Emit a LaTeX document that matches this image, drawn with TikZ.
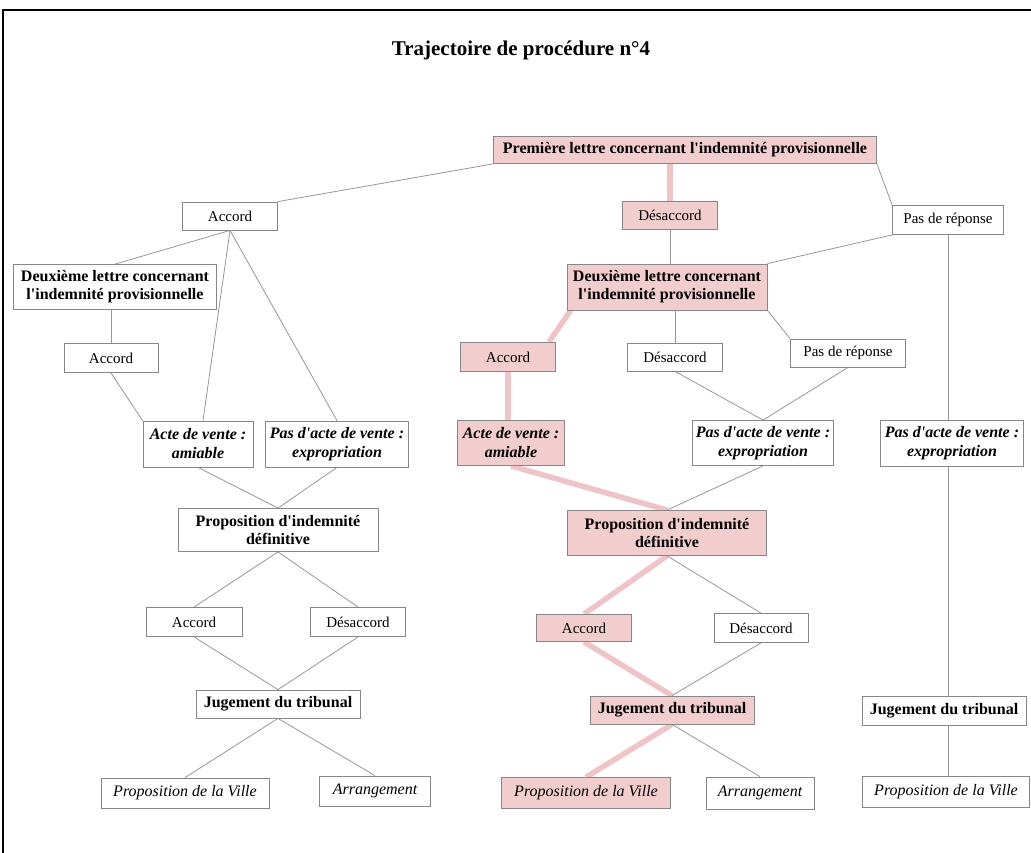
\documentclass[tikz,border=0pt]{standalone}
\usepackage{fontspec}
\setmainfont{Liberation Serif}
\usepackage{tikz}
\usetikzlibrary{positioning, backgrounds}

\definecolor{rosefond}{RGB}{242,205,206}
\definecolor{rosetrait}{RGB}{240,196,198}
\definecolor{bord}{RGB}{135,135,135}
\definecolor{trait}{RGB}{150,150,150}
\newcommand{\apo}{\textquotesingle}

\begin{document}
\begin{tikzpicture}[
    x=1pt, y=-1pt,
    box/.style={rectangle, draw=bord, fill=white, line width=0.8pt, inner sep=0pt,
        minimum width=95pt, minimum height=28pt, align=center,
        font=\fontsize{15}{17}\selectfont},
    gras/.style={box, font=\fontsize{16}{18}\selectfont\bfseries},
    acte/.style={box, minimum height=46pt, font=\fontsize{16}{19}\selectfont\bfseries\itshape},
    issue/.style={box, minimum height=30pt, font=\fontsize{16}{18}\selectfont\itshape},
    suivi/.style={fill=rosefond},
    lien/.style={draw=trait, line width=0.8pt},
    trajet/.style={draw=rosetrait, line width=5.5pt}
]
    \useasboundingbox (0,0) rectangle (1031,853);
    \draw[line width=1.5pt] (3,853) -- (3,10) -- (1031,10);

    \node[font=\fontsize{21}{24}\selectfont\bfseries] (titre) at (521,50) {Trajectoire de procédure n°4};

    % premiere lettre
    \node[gras, suivi, minimum width=383pt, minimum height=27pt] (prem) at (685,150) {Première lettre concernant l\apo indemnité provisionnelle};
    \node[box, minimum width=95pt] (acc1) at (230,216) {Accord};
    \node[box, suivi] (desac1) at (670,215) {Désaccord};
    \node[box, minimum width=111pt, minimum height=29pt] (pdr1) at (948,220) {Pas de réponse};

    % branche gauche
    \node[gras, minimum width=203pt, minimum height=45pt] (deux1) at (115,287) {Deuxième lettre concernant\\l\apo indemnité provisionnelle};
    \node[box, minimum width=94pt, minimum height=29pt] (acc2) at (111,358) {Accord};
    \node[acte, minimum width=110pt] (acte1) at (198,444) {Acte de vente :\\amiable};
    \node[acte, minimum width=143pt] (pasacte1) at (337,444) {Pas d\apo acte de vente :\\expropriation};
    \node[gras, minimum width=200pt, minimum height=43pt] (prop1) at (278,530) {Proposition d\apo indemnité\\définitive};
    \node[box, minimum width=96pt, minimum height=29pt] (acc3) at (194,622) {Accord};
    \node[box, minimum height=29pt] (desac3) at (358,622) {Désaccord};
    \node[gras, minimum width=164pt] (jug1) at (278,704) {Jugement du tribunal};
    \node[issue, minimum width=168pt] (ville1) at (185,793) {Proposition de la Ville};
    \node[issue, minimum width=111pt] (arr1) at (375,791) {Arrangement};

    % branche du milieu
    \node[gras, suivi, minimum width=200pt, minimum height=46pt] (deux2) at (667,287) {Deuxième lettre concernant\\l\apo indemnité provisionnelle};
    \node[box, suivi, minimum height=29pt] (acc4) at (508,357) {Accord};
    \node[box] (desac4) at (675,357) {Désaccord};
    \node[box, minimum width=115pt] (pdr4) at (848,353) {Pas de réponse};
    \node[acte, suivi, minimum width=107pt, minimum height=45pt] (acte4) at (511,443) {Acte de vente :\\amiable};
    \node[acte, minimum width=141pt, minimum height=45pt] (pasacte4) at (763,443) {Pas d\apo acte de vente :\\expropriation};
    \node[gras, suivi, minimum width=199pt, minimum height=45pt] (prop2) at (667,533) {Proposition d\apo indemnité\\définitive};
    \node[box, suivi, minimum height=27pt] (acc5) at (584,628) {Accord};
    \node[box, minimum width=94pt, minimum height=29pt] (desac5) at (761,628) {Désaccord};
    \node[gras, suivi, minimum width=164pt] (jug2) at (672,710) {Jugement du tribunal};
    \node[issue, suivi, minimum width=169pt, minimum height=31pt] (ville2) at (586,793) {Proposition de la Ville};
    \node[issue, minimum width=108pt, minimum height=32pt] (arr2) at (760,793) {Arrangement};

    % branche droite
    \node[acte, minimum width=143pt] (pasacte3) at (952,443) {Pas d\apo acte de vente :\\expropriation};
    \node[gras, minimum width=164pt, minimum height=29pt] (jug3) at (944,711) {Jugement du tribunal};
    \node[issue, minimum width=167pt, minimum height=31pt] (ville3) at (946,792) {Proposition de la Ville};

    % liens
    \begin{scope}[on background layer]
    \draw[lien] (prem.south west) -- (acc1.north east);
    \draw[lien] (prem.south east) -- (pdr1.north west);
    \draw[trajet] (desac1.north) -- (desac1.north |- prem.south);
    \draw[lien] (desac1.south) -- (desac1.south |- deux2.north);
    \draw[lien] (pdr1.south west) -- (deux2.north east);
    \draw[lien] (pdr1.south) -- (pdr1.south |- pasacte3.north);
    \draw[lien] (pdr1.south |- pasacte3.south) -- (pdr1.south |- jug3.north);
    \draw[lien] (pdr1.south |- jug3.south) -- (pdr1.south |- ville3.north);

    \draw[lien] (acc1.south) -- (deux1.north);
    \draw[lien] (acc1.south) -- ([xshift=5pt]acte1.north);
    \draw[lien] (acc1.south) -- (pasacte1.north);
    \draw[lien] (deux1.south -| acc2.north) -- (acc2.north);
    \draw[lien] (acc2.south) -- (acte1.north west);
    \draw[lien] (acte1.south) -- (prop1.north);
    \draw[lien] (pasacte1.south) -- (prop1.north);
    \draw[lien] (prop1.south) -- (acc3.north);
    \draw[lien] (prop1.south) -- (desac3.north);
    \draw[lien] (acc3.south) -- (jug1.north);
    \draw[lien] (desac3.south) -- (jug1.north);
    \draw[lien] (jug1.south) -- (ville1.north);
    \draw[lien] (jug1.south) -- (arr1.north);

    \draw[trajet] ([xshift=4pt]deux2.south west) -- ([xshift=-7pt]acc4.north east);
    \draw[lien] (deux2.south -| desac4.north) -- (desac4.north);
    \draw[lien] (deux2.south east) -- (pdr4.north west);
    \draw[trajet] (acc4.south) -- (acc4.south |- acte4.north);
    \draw[lien] (desac4.south) -- (pasacte4.north);
    \draw[lien] (pdr4.south) -- (pasacte4.north);
    \draw[trajet] (acte4.south) -- (prop2.north);
    \draw[lien] (pasacte4.south) -- (prop2.north);
    \draw[trajet] (prop2.south) -- (acc5.north);
    \draw[lien] (prop2.south) -- (desac5.north);
    \draw[trajet] (acc5.south) -- (jug2.north);
    \draw[lien] (desac5.south) -- (jug2.north);
    \draw[trajet] (jug2.south) -- (ville2.north);
    \draw[lien] (jug2.south) -- (arr2.north);
    \end{scope}
\end{tikzpicture}
\end{document}
